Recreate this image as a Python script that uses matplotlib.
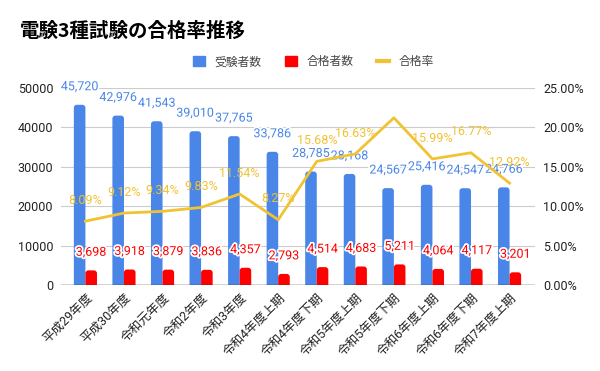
import matplotlib
matplotlib.use("Agg")
import matplotlib.pyplot as plt
import matplotlib.patheffects as pe
from matplotlib.lines import Line2D
from matplotlib.patches import Patch, FancyBboxPatch
import numpy as np

plt.rcParams['font.family'] = ['Roboto', 'Noto Sans CJK JP', 'DejaVu Sans']

# data
periods = ['平成29年度', '平成30年度', '令和元年度', '令和2年度', '令和3年度', '令和4年度上期',
           '令和4年度下期', '令和5年度上期', '令和5年度下期', '令和6年度上期', '令和6年度下期', '令和7年度上期']
examinees = [45720, 42976, 41543, 39010, 37765, 33786, 28785, 28168, 24567, 25416, 24547, 24766]
passers = [3698, 3918, 3879, 3836, 4357, 2793, 4514, 4683, 5211, 4064, 4117, 3201]
pass_rate = [8.09, 9.12, 9.34, 9.83, 11.54, 8.27, 15.68, 16.63, 21.21, 15.99, 16.77, 12.92]
# the reference hides the label of this point
hidden_rate_labels = ['令和5年度下期']

BLUE = '#4a86e8'
RED = '#ff0000'
YELLOW = '#f1c232'

fig = plt.figure(figsize=(6, 3.71), dpi=100)
ax = fig.add_axes([0.1025, 0.232, 0.7892, 0.531])
ax2 = ax.twinx()

x = np.arange(len(periods))
w = 0.3
ymax = 50000
ax.set_xlim(-0.62, len(periods) - 1 + 0.66)
ax.set_ylim(0, ymax)
ax2.set_ylim(0, 25)

# pixels per data unit, for rounded bar tops
bbox = ax.get_window_extent()
px_x = bbox.width / (ax.get_xlim()[1] - ax.get_xlim()[0])
px_y = bbox.height / ymax
rad = 3 / px_x
aspect = px_x / px_y


def rounded_bar(a, xc, h, color):
    # start below zero so only the top corners show rounded
    low = -rad * aspect
    p = FancyBboxPatch((xc - w / 2, low), w, h - low,
                       boxstyle=f'round,pad=0,rounding_size={rad}',
                       mutation_aspect=aspect, color=color, lw=0, zorder=3)
    a.add_patch(p)


for xi, v in zip(x, examinees):
    rounded_bar(ax, xi - w / 2, v, BLUE)
for xi, v in zip(x, passers):
    rounded_bar(ax, xi + w / 2, v, RED)

ax2.plot(x, pass_rate, color=YELLOW, lw=2, zorder=4)

stroke = [pe.withStroke(linewidth=2.5, foreground='white')]
for xi, v in zip(x, examinees):
    ax.annotate(f'{v:,}', (xi - w / 2, v), xytext=(0, 13), textcoords='offset points',
                ha='center', va='center', color=BLUE, fontsize=9, path_effects=stroke, zorder=6)
for xi, v in zip(x, passers):
    ax.annotate(f'{v:,}', (xi + w / 2, v), xytext=(0, 13), textcoords='offset points',
                ha='center', va='center', color=RED, fontsize=9, path_effects=stroke, zorder=6)
for xi, p, r in zip(x, periods, pass_rate):
    if p in hidden_rate_labels:
        continue
    ax2.annotate(f'{r:.2f}%', (xi, r), xytext=(0, 15), textcoords='offset points',
                 ha='center', va='center', color=YELLOW, fontsize=9, zorder=6)

ax.set_yticks(range(0, ymax + 1, 10000))
ax.set_yticklabels([str(t) for t in range(0, ymax + 1, 10000)])
ax2.set_yticks(range(0, 26, 5))
ax2.set_yticklabels([f'{t:.2f}%' for t in range(0, 26, 5)])
ax.grid(axis='y', color='#cccccc', lw=0.8, zorder=0)
ax.set_axisbelow(True)

ax.set_xticks(x)
ax.set_xticklabels(periods, rotation=45, ha='right', va='top', rotation_mode='anchor', fontsize=9)

for a in (ax, ax2):
    for s in ('top', 'left', 'right', 'bottom'):
        a.spines[s].set_visible(False)
    a.tick_params(length=0, labelsize=9, colors='#222222')
ax.axhline(0, color='#333333', lw=1, zorder=5)
ax.tick_params(axis='y', pad=6)
ax2.tick_params(axis='y', pad=6)
ax.tick_params(axis='x', pad=4)

fig.text(0.033, 0.915, '電験3種試験の合格率推移', fontsize=14, fontweight='bold',
         family=['Noto Sans CJK JP', 'DejaVu Sans'], va='center')

handles = [Patch(color=BLUE), Patch(color=RED), Line2D([0], [0], color=YELLOW, lw=3)]
fig.legend(handles, ['受験者数', '合格者数', '合格率'], loc='center', bbox_to_anchor=(0.522, 0.833),
           ncol=3, frameon=False, fontsize=8.5, handlelength=1.0, handleheight=0.9,
           columnspacing=2.0, handletextpad=0.8, labelcolor='#444444')

fig.savefig('out.png', dpi=100, facecolor='white')
